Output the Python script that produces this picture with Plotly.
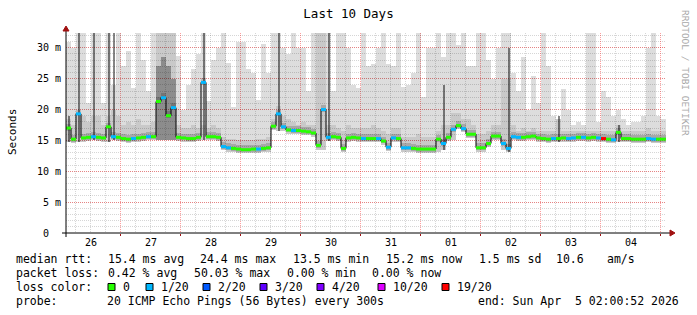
import plotly.graph_objects as go
from datetime import datetime, timedelta

# ---------------- data ----------------
START = datetime(2026, 3, 26, 2, 0, 52)
END = datetime(2026, 4, 5, 2, 0, 52)
STEP = timedelta(hours=2)

median_ms = [
    17.0, 15.2, 19.3, 15.4, 15.5, 15.6, 15.5, 15.4, 17.2, 15.6,
    15.5, 15.3, 15.2, 15.3, 15.4, 15.5, 15.6, 15.6, 21.3, 21.9,
    19.0, 20.3, 15.5, 15.4, 15.3, 15.3, 15.5, 24.4, 15.6, 15.6,
    15.5, 14.0, 13.8, 13.7, 13.6, 13.5, 13.5, 13.6, 13.6, 13.7,
    13.8, 17.3, 19.3, 17.2, 16.7, 16.6, 16.6, 16.5, 16.4, 16.2,
    14.2, 20.0, 15.5, 15.6, 15.5, 13.7, 15.4, 15.5, 15.4, 15.3,
    15.3, 15.3, 15.3, 14.9, 13.9, 15.4, 15.3, 13.8, 13.8, 13.7,
    13.6, 13.6, 13.6, 13.6, 15.2, 14.5, 15.5, 16.8, 17.4, 16.9,
    16.0, 16.0, 13.8, 13.8, 14.5, 15.7, 15.7, 14.5, 13.7, 15.6,
    15.5, 15.5, 15.6, 15.7, 15.4, 15.3, 15.2, 15.3, 15.3, 15.4,
    15.3, 15.4, 15.5, 15.5, 15.4, 15.5, 15.4, 15.3, 15.2, 15.1,
    16.3, 15.3, 15.3, 15.2, 15.2, 15.2, 15.3, 15.2, 15.2, 15.2,
]

loss_of_20 = [
    0, 0, 1, 0, 0, 1, 0, 0, 0, 1,
    0, 0, 0, 1, 0, 0, 1, 0, 0, 1,
    0, 1, 0, 0, 0, 0, 0, 1, 0, 0,
    0, 1, 1, 0, 0, 0, 0, 0, 1, 0,
    0, 0, 1, 1, 0, 1, 0, 0, 0, 0,
    0, 1, 1, 0, 0, 0, 0, 0, 0, 1,
    0, 0, 1, 0, 1, 1, 0, 1, 1, 0,
    0, 0, 0, 0, 0, 1, 0, 1, 0, 1,
    0, 0, 0, 0, 0, 0, 0, 1, 1, 1,
    1, 0, 0, 0, 0, 0, 0, 1, 0, 0,
    1, 1, 0, 1, 0, 0, 1, 19, 0, 1,
    0, 0, 0, 0, 0, 0, 1, 1, 0, 0,
]

smoke_lo = [
    14.7, 14.6, 14.7, 14.8, 14.9, 15.0, 14.9, 14.8, 14.8, 15.0,
    14.9, 14.7, 14.6, 14.7, 14.8, 14.9, 15.0, 15.0, 15.0, 15.0,
    15.0, 15.0, 14.9, 14.8, 14.7, 14.7, 14.9, 15.0, 15.0, 15.0,
    14.9, 13.4, 13.2, 13.1, 13.0, 12.9, 12.9, 13.0, 13.0, 13.1,
    13.2, 16.7, 16.6, 16.6, 16.1, 16.0, 16.0, 15.9, 15.8, 15.6,
    13.4, 13.4, 14.9, 15.0, 14.9, 13.1, 14.8, 14.9, 14.8, 14.7,
    14.7, 14.7, 14.7, 14.3, 13.3, 14.8, 14.7, 13.2, 13.2, 13.1,
    13.0, 13.0, 13.0, 13.0, 13.2, 13.5, 14.9, 15.0, 16.8, 16.3,
    15.4, 15.4, 13.2, 13.2, 13.9, 15.1, 15.1, 13.5, 13.1, 15.0,
    14.9, 14.9, 15.0, 15.1, 14.8, 14.7, 14.6, 14.7, 14.7, 14.8,
    14.7, 14.8, 14.9, 14.9, 14.8, 14.9, 14.8, 14.7, 14.6, 14.5,
    14.7, 14.7, 14.7, 14.6, 14.6, 14.6, 14.7, 14.6, 14.6, 14.6,
]

smoke_hi = [
    31.0, 30.0, 32.5, 32.5, 21.0, 32.5, 32.5, 21.0, 32.5, 24.0,
    32.5, 27.0, 29.5, 23.5, 32.5, 28.0, 23.0, 32.5, 32.5, 32.5,
    32.5, 32.5, 28.7, 20.0, 24.0, 26.5, 29.0, 32.5, 21.4, 28.0,
    30.0, 32.5, 27.6, 20.4, 31.0, 31.0, 26.6, 26.0, 21.5, 30.6,
    26.0, 32.5, 32.5, 30.0, 29.0, 32.5, 30.0, 30.0, 23.0, 32.5,
    32.5, 32.5, 32.5, 23.0, 32.5, 32.5, 30.0, 24.0, 23.5, 32.5,
    27.0, 27.4, 30.0, 32.5, 27.4, 27.0, 32.5, 23.6, 24.0, 26.0,
    32.5, 22.0, 30.0, 30.0, 32.5, 28.5, 32.5, 32.5, 30.5, 32.5,
    27.0, 27.0, 32.5, 32.5, 28.0, 25.0, 30.0, 32.5, 32.5, 26.0,
    23.0, 28.5, 20.0, 25.5, 21.0, 32.5, 27.0, 19.0, 18.5, 23.4,
    20.0, 17.5, 18.0, 17.5, 32.5, 32.5, 18.0, 23.0, 22.0, 19.0,
    20.0, 18.5, 17.5, 18.0, 18.0, 19.0, 30.0, 32.5, 19.0, 18.5,
]

smoke_mid = [
    18.5, 17.5, 19.0, 19.0, 18.0, 19.0, 19.0, 17.5, 19.0, 20.0,
    19.0, 17.5, 18.0, 17.5, 18.5, 17.5, 17.5, 18.0, 32.5, 32.5,
    32.5, 32.5, 17.5, 17.0, 17.0, 17.5, 17.0, 17.5, 17.0, 17.5,
    17.0, 15.5, 15.2, 15.2, 15.0, 15.0, 15.0, 15.0, 15.2, 15.2,
    15.5, 18.5, 20.5, 19.0, 18.5, 18.0, 17.5, 18.0, 17.5, 17.5,
    32.5, 32.5, 17.5, 17.5, 17.0, 16.5, 17.5, 17.0, 17.0, 17.0,
    17.0, 17.5, 17.0, 16.5, 16.0, 17.0, 17.0, 15.5, 15.5, 15.5,
    16.0, 15.5, 15.5, 15.5, 16.5, 17.5, 17.5, 19.5, 19.5, 18.5,
    18.5, 17.5, 16.0, 16.0, 16.5, 17.5, 17.5, 25.0, 25.0, 17.5,
    16.5, 17.0, 16.5, 17.0, 16.5, 16.5, 16.5, 16.5, 18.5, 16.5,
    16.5, 16.5, 16.5, 16.5, 16.5, 16.5, 16.5, 16.5, 16.5, 16.5,
    17.5, 16.5, 16.5, 16.5, 16.5, 16.5, 17.0, 16.5, 16.5, 16.5,
]

# dark single columns (bin index -> top of dark smoke, ms)
spike_top = {0: 19.0, 2: 32.5, 5: 32.5, 8: 32.5, 9: 32.5, 27: 32.5, 42: 32.5,
             52: 32.5, 75: 24.0, 88: 30.0, 98: 19.0, 110: 17.5}
# broad dark burst (bin index -> top of dark smoke, ms)
burst_top = {18: 27.0, 19: 28.5, 20: 27.0, 21: 25.0}

day_labels = ["26", "27", "28", "29", "30", "31", "01", "02", "03", "04"]
first_label_noon = datetime(2026, 3, 26, 12, 0, 0)

y_ticks = [0, 5, 10, 15, 20, 25, 30]
y_tick_text = ["0\u00a0\u00a0", "5 m", "10 m", "15 m", "20 m", "25 m", "30 m"]

loss_steps = [0, 1, 2, 3, 4, 10, 19]
loss_colors = ["#26ff00", "#00b8ff", "#0059ff", "#5e00ff", "#7e00ff", "#dd00ff", "#ff0000"]
loss_labels = ["0", "1/20", "2/20", "3/20", "4/20", "10/20", "19/20"]

rtt_line = ["median rtt:", "15.4 ms avg", "24.4 ms max", "13.5 ms min",
            "15.2 ms now", "1.5 ms sd", "10.6", "am/s"]
loss_line = ["packet loss:", "0.42 % avg", "50.03 % max", "0.00 % min", "0.00 % now"]
probe_line = ["probe:", "20 ICMP Echo Pings (56 Bytes) every 300s",
              "end: Sun Apr\u00a0\u00a05 02:00:52 2026"]

# ---------------- layout geometry (pixels) ----------------
W, H = 697, 315
PL, PR, PT, PB = 66, 666, 33, 233
FONT = "DejaVu Sans Mono"


def fx(px):
    return (px - PL) / (PR - PL)


def fy(py):
    return (PB - py) / (PB - PT)


rtt_x = [16, 108, 200, 293, 386, 479, 556, 607]
loss_x = [16, 108, 194, 287, 372]
probe_x = [16, 107, 478]
key_sq_x = [108, 146, 203, 260, 317, 378, 442]
line_y = [259, 273, 287, 301]

LIGHT = "rgba(0,0,0,0.135)"
MEDIUM = "rgba(0,0,0,0.09)"
CORE = "rgba(0,0,0,0.16)"
BURST = "rgba(0,0,0,0.30)"
SPIKE = "rgba(0,0,0,0.48)"

n = len(median_ms)
bin_ms = STEP.total_seconds() * 1000
centers = [START + STEP * (i + 0.5) for i in range(n)]
edges = [START + STEP * i for i in range(n + 1)]


def loss_color(k):
    c = loss_colors[0]
    for s, col in zip(loss_steps, loss_colors):
        if k >= s:
            c = col
    return c


fig = go.Figure()

# light smoke
fig.add_trace(go.Bar(x=centers, base=smoke_lo,
                     y=[h - l for h, l in zip(smoke_hi, smoke_lo)],
                     width=bin_ms, marker=dict(color=LIGHT, line=dict(width=0))))
# medium smoke
fig.add_trace(go.Bar(x=centers, base=smoke_lo,
                     y=[m - l for m, l in zip(smoke_mid, smoke_lo)],
                     width=bin_ms, marker=dict(color=MEDIUM, line=dict(width=0))))
# burst dark
bi = sorted(burst_top)
fig.add_trace(go.Bar(x=[centers[i] for i in bi], base=[smoke_lo[i] for i in bi],
                     y=[burst_top[i] - smoke_lo[i] for i in bi],
                     width=bin_ms, marker=dict(color=BURST, line=dict(width=0))))
# dark spikes
si = sorted(spike_top)
fig.add_trace(go.Bar(x=[centers[i] for i in si], base=[smoke_lo[i] for i in si],
                     y=[spike_top[i] - smoke_lo[i] for i in si],
                     width=bin_ms * 0.4, marker=dict(color=SPIKE, line=dict(width=0))))
# core smoke around median
fig.add_trace(go.Bar(x=centers, base=[m - 0.4 for m in median_ms],
                     y=[1.1] * n, width=bin_ms,
                     marker=dict(color=CORE, line=dict(width=0))))

# black median step line
fig.add_trace(go.Scatter(x=edges, y=median_ms + [median_ms[-1]], mode="lines",
                         line=dict(color="#000000", width=1, shape="hv")))

# coloured median segments by loss
for col in loss_colors:
    xs, ys = [], []
    for i in range(n):
        if loss_color(loss_of_20[i]) == col:
            xs += [edges[i], edges[i + 1], None]
            ys += [median_ms[i], median_ms[i], None]
    if xs:
        fig.add_trace(go.Scatter(x=xs, y=ys, mode="lines",
                                 line=dict(color=col, width=3)))

annotations = []
# day labels
for k, lab in enumerate(day_labels):
    annotations.append(dict(x=first_label_noon + timedelta(days=k), xref="x",
                            y=fy(242), yref="paper", text=lab, showarrow=False,
                            xanchor="center", yanchor="middle",
                            font=dict(family=FONT, size=10, color="#000")))


def add_line(texts, xs, py):
    for t, px in zip(texts, xs):
        annotations.append(dict(x=fx(px - 1), xref="paper", y=fy(py), yref="paper",
                                text=t, showarrow=False, xanchor="left", yanchor="middle",
                                borderpad=0,
                                font=dict(family=FONT, size=11.5, color="#000")))


add_line(rtt_line, rtt_x, line_y[0])
add_line(loss_line, loss_x, line_y[1])
add_line(["loss color:"], [16], line_y[2])
add_line(loss_labels, [x + 15 for x in key_sq_x], line_y[2])
add_line(probe_line, probe_x, line_y[3])

annotations.append(dict(x=fx(12), xref="paper", y=fy(132), yref="paper", text="Seconds",
                        showarrow=False, textangle=-90, xanchor="center", yanchor="middle",
                        font=dict(family=FONT, size=11, color="#000")))
annotations.append(dict(x=fx(686), xref="paper", y=fy(73), yref="paper",
                        text="RRDTOOL / TOBI OETIKER", showarrow=False, textangle=90,
                        xanchor="center", yanchor="middle",
                        font=dict(family=FONT, size=9.5, color="#A8A8A8")))

shapes = []
# axis lines
shapes.append(dict(type="line", xref="paper", yref="paper", x0=fx(62), x1=fx(670),
                   y0=0, y1=0, line=dict(color="#000", width=1)))
shapes.append(dict(type="line", xref="paper", yref="paper", x0=0, x1=0,
                   y0=fy(237), y1=fy(30), line=dict(color="#000", width=1)))
# arrows
shapes.append(dict(type="path", xref="paper", yref="paper",
                   path=f"M{fx(63)},{fy(31)} L{fx(69)},{fy(31)} L{fx(66)},{fy(26)} Z",
                   fillcolor="#a01010", line=dict(color="#a01010", width=1)))
shapes.append(dict(type="path", xref="paper", yref="paper",
                   path=f"M{fx(670)},{fy(230)} L{fx(670)},{fy(236)} L{fx(675)},{fy(233)} Z",
                   fillcolor="#a01010", line=dict(color="#a01010", width=1)))
# loss colour keys
for px, col in zip(key_sq_x, loss_colors):
    shapes.append(dict(type="rect", xref="paper", yref="paper",
                       x0=fx(px), x1=fx(px + 7), y0=fy(line_y[2] + 3.5), y1=fy(line_y[2] - 3.5),
                       fillcolor=col, line=dict(color="#000", width=1)))

GRID_GRAY = "rgba(0,0,0,0.16)"
GRID_RED = "rgba(255,0,0,0.38)"

fig.update_layout(
    width=W, height=H,
    margin=dict(l=PL, r=W - PR, t=PT, b=H - PB, pad=0),
    paper_bgcolor="white", plot_bgcolor="white",
    showlegend=False, barmode="overlay", bargap=0, hovermode=False,
    title=dict(text="Last 10 Days", x=0.5, xref="container", xanchor="center",
               y=1 - 14 / H, yref="container", yanchor="middle",
               font=dict(family=FONT, size=12.5, color="#000")),
    xaxis=dict(type="date", range=[START, END], showticklabels=False,
               tickmode="linear", tick0="2026-03-26 00:00:00", dtick=86400000,
               ticks="outside", ticklen=2, tickcolor="#a01010",
               showgrid=True, gridcolor=GRID_RED, griddash="1px,1px", gridwidth=1,
               minor=dict(tickmode="linear", tick0="2026-03-26 00:00:00", dtick=21600000,
                          showgrid=True, gridcolor=GRID_GRAY, griddash="1px,1px",
                          gridwidth=1, ticks=""),
               zeroline=False, showline=False, fixedrange=True),
    yaxis=dict(range=[0, 32.4], tickmode="array", tickvals=y_ticks, ticktext=y_tick_text,
               ticks="", ticklabelstandoff=4,
               tickfont=dict(family=FONT, size=10, color="#000"),
               showgrid=True, gridcolor=GRID_RED, griddash="1px,1px", gridwidth=1,
               minor=dict(tickmode="linear", tick0=0, dtick=1, showgrid=True,
                          gridcolor=GRID_GRAY, griddash="1px,1px", gridwidth=1, ticks=""),
               zeroline=False, showline=False, fixedrange=True),
    annotations=annotations,
    shapes=shapes,
)

fig.write_html("out.html")
